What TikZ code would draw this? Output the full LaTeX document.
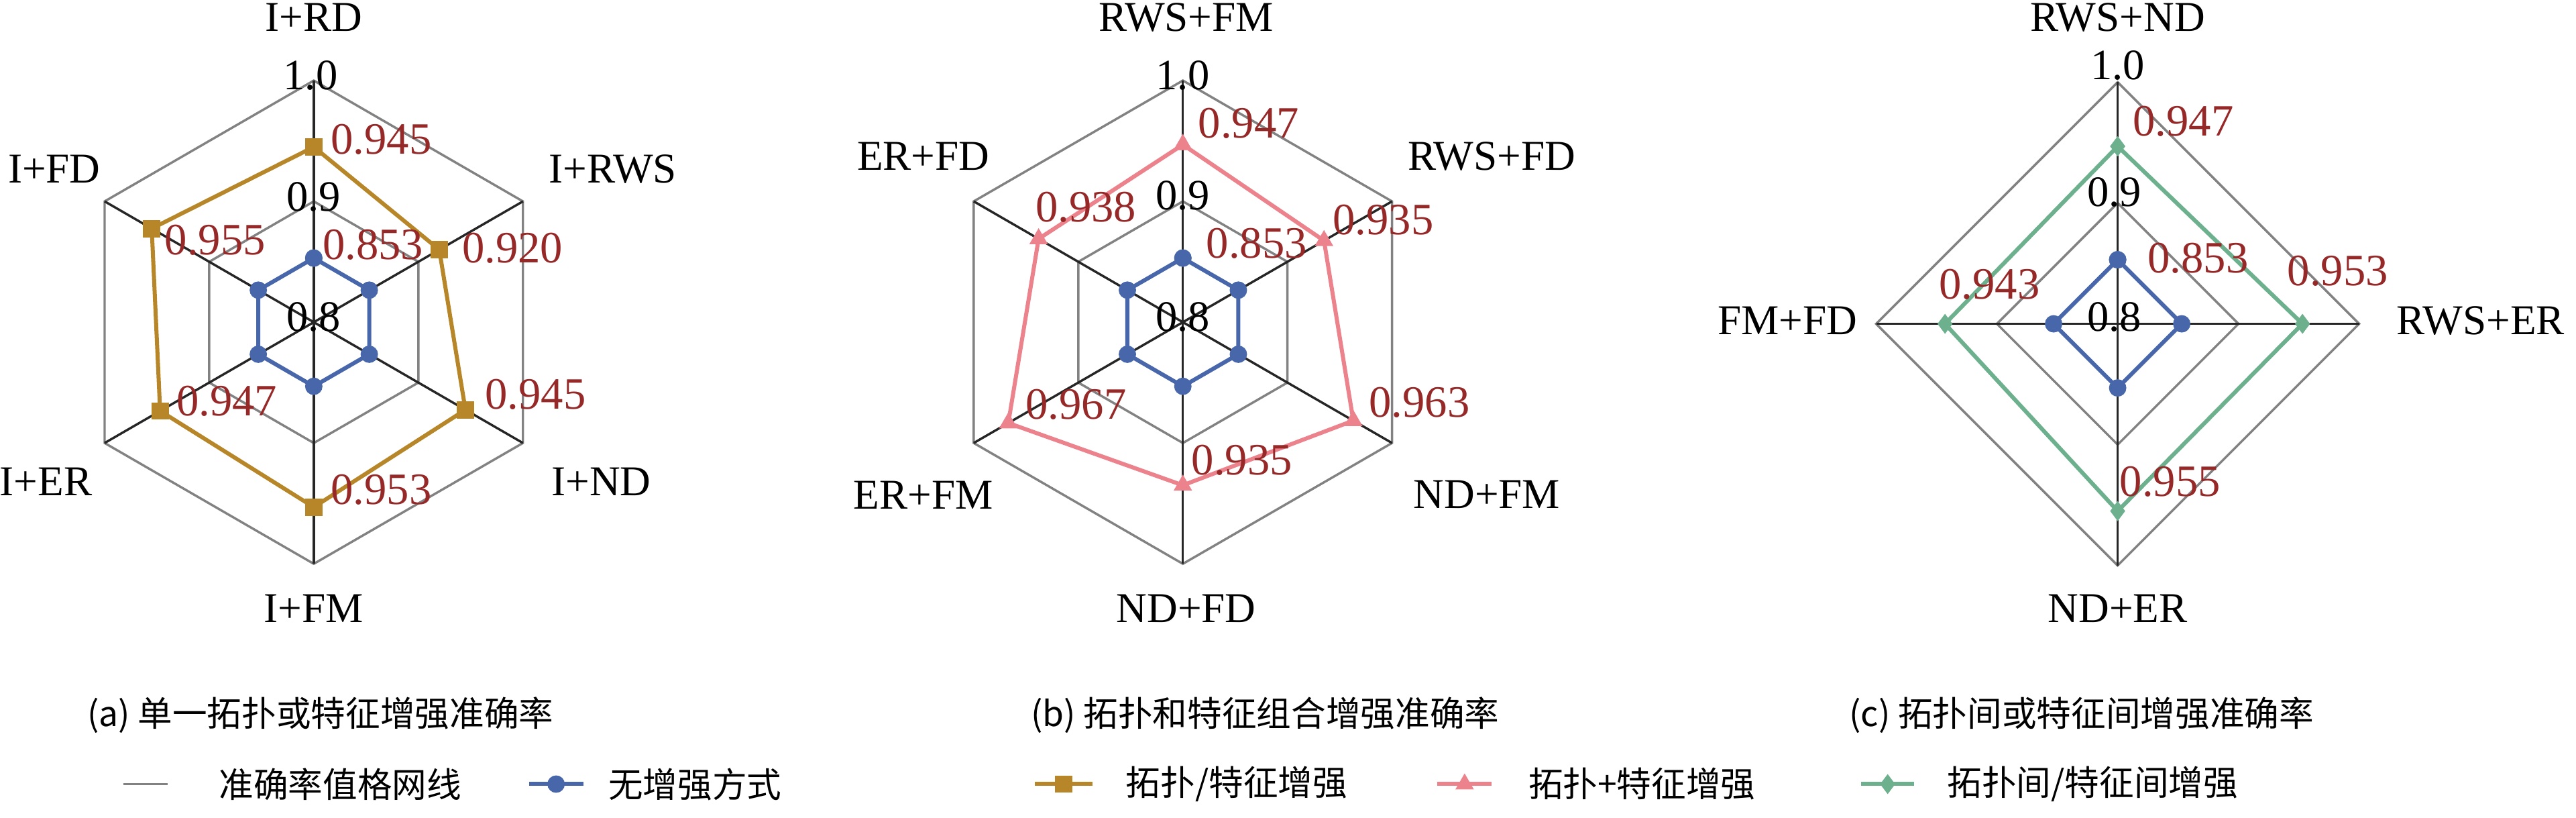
\documentclass[tikz,border=0pt]{standalone}
\usepackage{fontspec}
\setmainfont{Liberation Serif}
\newfontfamily\cjk{Noto Sans CJK SC}
\usetikzlibrary{plotmarks}
\definecolor{gridgray}{RGB}{130,130,130}
\definecolor{baseblue}{RGB}{72,102,170}
\definecolor{topogold}{RGB}{183,134,40}
\definecolor{mixpink}{RGB}{236,130,140}
\definecolor{crossgreen}{RGB}{108,176,142}
\definecolor{valred}{RGB}{150,40,40}
\tikzset{
  gridline/.style={gridgray, line width=0.8pt},
  spoke/.style={black!85, line width=0.8pt},
  series/.style={line width=1.4pt, mark size=2.3pt},
  valtext/.style={valred, font=\fontsize{15.5}{17}\selectfont, inner sep=0pt},
  axistext/.style={font=\fontsize{14.7}{17}\selectfont, inner sep=0pt},
  scaletext/.style={font=\fontsize{15}{17}\selectfont, inner sep=0pt},
  captext/.style={font=\cjk\fontsize{12}{14}\selectfont, inner sep=0pt},
}
\begin{document}
\begin{tikzpicture}[x=0.02cm, y=0.02cm]
    \useasboundingbox (0,0) rectangle (1568,-497.6);

    % (a) 单一
    \begin{scope}[shift={(191,-196)}]
        \foreach \r in {73.5,147}
            \draw [gridline] (90:\r) -- (30:\r) -- (-30:\r) -- (-90:\r) -- (-150:\r) -- (150:\r) -- cycle;
        \foreach \a in {90,30,-30,-90,-150,150}
            \draw [spoke] (0,0) -- (\a:147);
        \draw [series, baseblue, mark=*] plot coordinates {(90:39) (30:39) (-30:39) (-90:39) (-150:39) (150:39) (90:39)};
        \draw [series, topogold, mark=square*] plot coordinates {(90:106.6) (30:88.2) (-30:106.6) (-90:112.5) (-150:108) (150:113.9) (90:106.6)};
    \end{scope}
    \node [axistext] (a1) at (191,-10.5) {I+RD};
    \node [axistext] (a2) at (373,-103) {I+RWS};
    \node [axistext] (a3) at (366,-293) {I+ND};
    \node [axistext] (a4) at (191,-370) {I+FM};
    \node [axistext] (a5) at (28,-293) {I+ER};
    \node [axistext] (a6) at (33,-103) {I+FD};
    \node [scaletext] (as1) at (189,-46) {1.0};
    \node [scaletext] (as2) at (191,-120) {0.9};
    \node [scaletext] (as3) at (191,-193) {0.8};
    \node [valtext] (av0) at (227,-149) {0.853};
    \node [valtext] (av1) at (232,-85) {0.945};
    \node [valtext] (av2) at (312,-151) {0.920};
    \node [valtext] (av3) at (326,-240) {0.945};
    \node [valtext] (av4) at (232,-298) {0.953};
    \node [valtext] (av5) at (138,-244) {0.947};
    \node [valtext] (av6) at (131,-146) {0.955};
    \node [captext] (acap) at (195,-435) {(a) 单一拓扑或特征增强准确率};

    % (b) 组合
    \begin{scope}[shift={(720,-196)}]
        \foreach \r in {73.5,147}
            \draw [gridline] (90:\r) -- (30:\r) -- (-30:\r) -- (-90:\r) -- (-150:\r) -- (150:\r) -- cycle;
        \foreach \a in {90,30,-30,-90,-150,150}
            \draw [spoke] (0,0) -- (\a:147);
        \draw [series, baseblue, mark=*] plot coordinates {(90:39) (30:39) (-30:39) (-90:39) (-150:39) (150:39) (90:39)};
        \draw [series, mixpink, mark=triangle*] plot coordinates {(90:108) (30:99.2) (-30:119.8) (-90:99.2) (-150:122.7) (150:101.4) (90:108)};
    \end{scope}
    \node [axistext] (b1) at (722,-10.5) {RWS+FM};
    \node [axistext] (b2) at (908,-95) {RWS+FD};
    \node [axistext] (b3) at (905,-301) {ND+FM};
    \node [axistext] (b4) at (722,-370) {ND+FD};
    \node [axistext] (b5) at (562,-301) {ER+FM};
    \node [axistext] (b6) at (562,-95) {ER+FD};
    \node [scaletext] (bs1) at (720,-46) {1.0};
    \node [scaletext] (bs2) at (720,-119) {0.9};
    \node [scaletext] (bs3) at (720,-193) {0.8};
    \node [valtext] (bv0) at (765,-148) {0.853};
    \node [valtext] (bv1) at (760,-75) {0.947};
    \node [valtext] (bv2) at (842,-134) {0.935};
    \node [valtext] (bv3) at (864,-245) {0.963};
    \node [valtext] (bv4) at (756,-280) {0.935};
    \node [valtext] (bv5) at (655,-246) {0.967};
    \node [valtext] (bv6) at (661,-126) {0.938};
    \node [captext] (bcap) at (770,-435) {(b) 拓扑和特征组合增强准确率};

    % (c) 间
    \begin{scope}[shift={(1289,-197)}]
        \foreach \r in {73.5,147}
            \draw [gridline] (90:\r) -- (0:\r) -- (-90:\r) -- (180:\r) -- cycle;
        \foreach \a in {90,0,-90,180}
            \draw [spoke] (0,0) -- (\a:147);
        \draw [series, baseblue, mark=*] plot coordinates {(90:39) (0:39) (-90:39) (180:39) (90:39)};
        \draw [series, crossgreen, mark=diamond*] plot coordinates {(90:108) (0:112.5) (-90:113.9) (180:105.1) (90:108)};
    \end{scope}
    \node [axistext] (c1) at (1289,-10.5) {RWS+ND};
    \node [axistext] (c2) at (1510,-195) {RWS+ER};
    \node [axistext] (c3) at (1289,-370) {ND+ER};
    \node [axistext] (c4) at (1088,-195) {FM+FD};
    \node [scaletext] (cs1) at (1289,-40) {1.0};
    \node [scaletext] (cs2) at (1287,-117) {0.9};
    \node [scaletext] (cs3) at (1287,-193) {0.8};
    \node [valtext] (cv0) at (1338,-157) {0.853};
    \node [valtext] (cv1) at (1329,-74) {0.947};
    \node [valtext] (cv2) at (1423,-165) {0.953};
    \node [valtext] (cv3) at (1321,-293) {0.955};
    \node [valtext] (cv4) at (1211,-173) {0.943};
    \node [captext] (ccap) at (1267,-435) {(c) 拓扑间或特征间增强准确率};

    % 图例
    \draw [gridline] (75,-477) -- (102,-477);
    \node [captext, anchor=west] (lg1) at (133,-477) {准确率值格网线};
    \draw [series, baseblue] (322,-477) -- (355,-477);
    \draw [series, baseblue, mark=*] plot coordinates {(338.5,-477)};
    \node [captext, anchor=west] (lg2) at (370,-477) {无增强方式};
    \draw [series, topogold] (630,-477) -- (665,-477);
    \draw [series, topogold, mark=square*] plot coordinates {(647.5,-477)};
    \node [captext, anchor=west] (lg3) at (685,-477) {拓扑/特征增强};
    \draw [series, mixpink] (875,-477) -- (908,-477);
    \draw [series, mixpink, mark=triangle*] plot coordinates {(891.5,-477)};
    \node [captext, anchor=west] (lg4) at (930,-477) {拓扑+特征增强};
    \draw [series, crossgreen] (1133,-477) -- (1165,-477);
    \draw [series, crossgreen, mark=diamond*] plot coordinates {(1149,-477)};
    \node [captext, anchor=west] (lg5) at (1185,-477) {拓扑间/特征间增强};
\end{tikzpicture}
\end{document}
